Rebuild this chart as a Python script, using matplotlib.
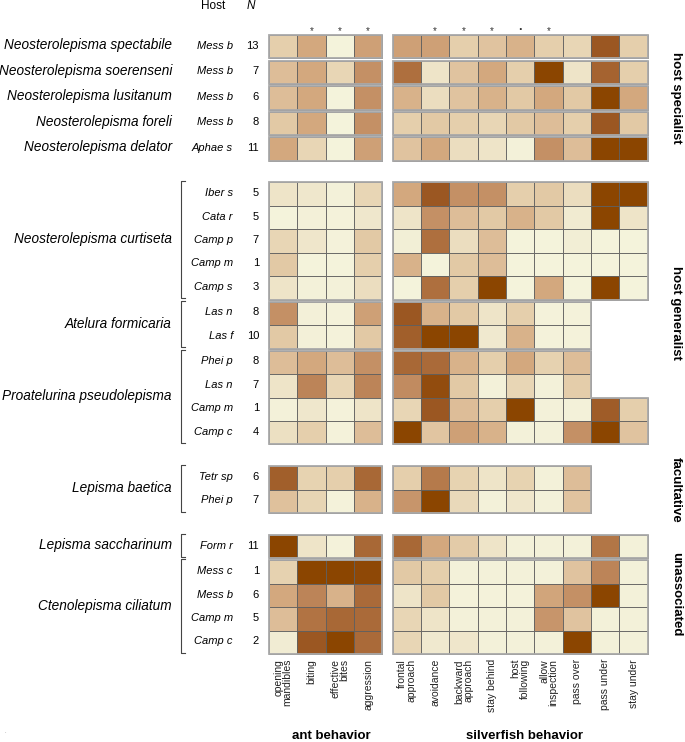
import numpy as np
import matplotlib.pyplot as plt
from matplotlib.colors import LinearSegmentedColormap, Normalize
from matplotlib.patches import Rectangle, Polygon

plt.rcParams['font.family'] = ['Liberation Sans', 'DejaVu Sans']

nan = np.nan

# columns
ant_cols = ['opening\nmandibles', 'biting', 'effective\nbites', 'aggression']
fish_cols = ['frontal\napproach', 'avoidance', 'backward\napproach', 'stay behind',
             'host\nfollowing', 'allow\ninspection', 'pass over', 'pass under', 'stay under']
ant_marks = ['', '*', '*', '*']
fish_marks = ['', '*', '*', '*', '.', '*', '', '', '']

# rows
groups = ['host specialist', 'host generalist', 'facultative', 'unassociated']
species = ['Neosterolepisma spectabile', 'Neosterolepisma soerenseni',
           'Neosterolepisma lusitanum', 'Neosterolepisma foreli',
           'Neosterolepisma delator', 'Neosterolepisma curtiseta',
           'Atelura formicaria', 'Proatelurina pseudolepisma',
           'Lepisma baetica', 'Lepisma saccharinum', 'Ctenolepisma ciliatum']
species_group = [0, 0, 0, 0, 0, 1, 1, 1, 2, 3, 3]
row_species = [0, 1, 2, 3, 4, 5, 5, 5, 5, 5, 6, 6, 7, 7, 7, 7, 8, 8, 9, 10, 10, 10, 10]
hosts = ['Mess b', 'Mess b', 'Mess b', 'Mess b', 'Aphae s',
         'Iber s', 'Cata r', 'Camp p', 'Camp m', 'Camp s',
         'Las n', 'Las f',
         'Phei p', 'Las n', 'Camp m', 'Camp c',
         'Tetr sp', 'Phei p',
         'Form r',
         'Mess c', 'Mess b', 'Camp m', 'Camp c']
n_obs = [13, 7, 6, 8, 11, 5, 5, 7, 1, 3, 8, 10, 8, 7, 1, 4, 6, 7, 11, 1, 6, 5, 2]

# scores (0 = never, 10 = most frequent)
ant_scores = [
    [3, 5.5, 0, 6],
    [4.5, 5.5, 2.5, 7],
    [4.5, 5.5, 0, 7],
    [3.5, 5.5, 0, 7],
    [5.5, 2.5, 0, 6],
    [1.5, 1.2, 0.2, 2.5],
    [0, 0.3, 0.1, 1.2],
    [2.5, 1.3, 0.1, 3.5],
    [3.5, 0, 0, 3],
    [1.5, 0.2, 0.2, 2],
    [7, 0.3, 0.1, 6],
    [3.5, 0.3, 0.1, 3.5],
    [4.5, 5.5, 4.5, 7],
    [1.5, 7.5, 2.5, 7.5],
    [0.2, 1.2, 0.1, 1.5],
    [1.8, 3, 0.1, 4.5],
    [9.2, 2.7, 3, 8.8],
    [4.2, 2.6, 0.1, 5],
    [10, 1.5, 0.1, 8.8],
    [2.8, 10, 10, 9.9],
    [5.5, 7.5, 5, 8.7],
    [4.5, 8.3, 8.8, 8.7],
    [0.7, 9.5, 10, 8.7],
]
fish_scores = [
    [6, 6, 3, 4, 5, 3, 2.5, 9.5, 3],
    [8.5, 1.5, 4, 5.5, 3, 10, 1.5, 9, 3],
    [5, 2, 4, 5, 3.5, 5.5, 3.5, 10, 5.5],
    [3, 3.5, 3, 2.5, 3.5, 4.5, 3, 9.5, 3.5],
    [4, 5.5, 2, 1.5, 0.2, 7, 4.5, 10, 10],
    [5.5, 9.5, 7, 7, 3, 3.5, 2, 10, 10],
    [1.5, 7, 4.5, 3.5, 5, 3.5, 0.8, 10, 1.5],
    [0.4, 8.5, 2, 4.5, 0, 0, 0.5, 0, 0],
    [5, 0, 3.5, 4.5, 0, 0, 0, 0, 0],
    [0, 8.5, 3, 10, 0, 5.5, 0, 10, 0],
    [9.5, 5, 3.5, 1.5, 3, 0.1, 0.1, nan, nan],
    [9.2, 10, 10, 1, 5, 0.1, 0.1, nan, nan],
    [8.8, 8.7, 5, 3, 5.5, 2.8, 4.5, nan, nan],
    [7.2, 9.8, 3.5, 0.2, 2.5, 0.2, 3.2, nan, nan],
    [2.5, 9.5, 4.5, 3, 10, 0.2, 0.2, 9.3, 3],
    [10, 3.8, 6, 5, 0.2, 0.2, 7, 10, 4],
    [3, 8, 2.7, 1.5, 2.7, 0.2, 4.5, nan, nan],
    [6.7, 10, 2.3, 0.2, 1.3, 0.2, 4, nan, nan],
    [8.8, 5.5, 3.3, 1.5, 0.2, 0.2, 0.2, 8.2, 0.2],
    [3.5, 3, 0.2, 0.2, 0.2, 0.2, 4, 7.5, 0.2],
    [1.5, 3.5, 0.1, 0.1, 0.1, 5.7, 7, 10, 0.2],
    [2.5, 1.5, 0.2, 0.2, 0.2, 6.7, 4, 0.2, 0.2],
    [2.5, 1, 1.3, 0.2, 0.2, 0.2, 10, 0.2, 0.2],
]

cmap = LinearSegmentedColormap.from_list('brown', [
    (0, '#F4F3DB'), (0.15, '#EEE4C8'), (0.3, '#E5CFAC'), (0.45, '#DDBD98'),
    (0.55, '#D3A87E'), (0.7, '#C49066'), (0.85, '#AE6F3E'), (0.95, '#9C5824'),
    (1, '#8B4500')])
norm = Normalize(0, 10)

# layout in pixels
X_ANT, X_FISH, CW = 269, 392.7, 28.35
Y0, RH, GAP_S, GAP_L = 35, 23.45, 2.1, 21.7

row_top = []
y = Y0
for s in range(len(species)):
    if s > 0:
        y += GAP_L if species_group[s] != species_group[s - 1] else GAP_S
    for r in range(len(row_species)):
        if row_species[r] == s:
            row_top.append(y)
            y += RH

fig = plt.figure(figsize=(6.85, 7.42), dpi=100)
ax = fig.add_axes([0, 0, 1, 1])
ax.set_xlim(0, 685)
ax.set_ylim(742, 0)
ax.axis('off')


def draw_block(rows, scores, x0):
    pts = [(x0, row_top[rows[0]])]
    for r in rows:
        vals = scores[r]
        n = 0
        for j, v in enumerate(vals):
            if np.isnan(v):
                continue
            n = j + 1
            ax.add_patch(Rectangle((x0 + j * CW, row_top[r]), CW, RH,
                                   facecolor=cmap(norm(v)), edgecolor='#5f5f5f', lw=0.6))
        pts.append((x0 + n * CW, row_top[r]))
        pts.append((x0 + n * CW, row_top[r] + RH))
    pts.append((x0, row_top[rows[-1]] + RH))
    ax.add_patch(Polygon(pts, closed=True, fill=False, edgecolor='#a9a9a9', lw=1.3))


for s, name in enumerate(species):
    rows = [r for r in range(len(row_species)) if row_species[r] == s]
    draw_block(rows, ant_scores, X_ANT)
    draw_block(rows, fish_scores, X_FISH)
    top, bot = row_top[rows[0]], row_top[rows[-1]] + RH
    ax.text(172, (top + bot) / 2 - 1.5, name, ha='right', va='center',
            fontsize=9.8, style='italic')
    if species_group[s] > 0:
        ax.plot([185, 181, 181, 185], [top - 1, top - 1, bot - 1.5, bot - 1.5],
                color='#444444', lw=0.8)

for r in range(len(row_species)):
    yc = row_top[r] + RH / 2
    ax.text(233, yc - 1, hosts[r], ha='right', va='center', fontsize=8, style='italic')
    ax.text(259, yc - 1, str(n_obs[r]), ha='right', va='center', fontsize=8)

ax.text(213, 6, 'Host', ha='center', va='center', fontsize=8.5)
ax.text(251, 6, 'N', ha='center', va='center', fontsize=8.5, style='italic')

for x0, cols, marks in [(X_ANT, ant_cols, ant_marks), (X_FISH, fish_cols, fish_marks)]:
    for j, lab in enumerate(cols):
        xc = x0 + (j + 0.5) * CW
        ax.text(xc, 659, lab, rotation=90, ha='center', va='top', fontsize=7.5,
                multialignment='right', linespacing=0.9, color='#222222')
        if marks[j] == '*':
            ax.text(xc, 31, '*', ha='center', va='center', fontsize=7, color='#333333')
        elif marks[j] == '.':
            ax.text(xc, 30, '.', ha='center', va='baseline', fontsize=9,
                    fontweight='bold', color='#333333')

ax.text(X_ANT + 2 * CW + 6, 736, 'ant behavior', ha='center', va='center',
        fontsize=9.5, fontweight='bold')
ax.text(X_FISH + 4.5 * CW + 4, 736, 'silverfish behavior', ha='center', va='center',
        fontsize=9.5, fontweight='bold')

for g, lab in enumerate(groups):
    rows = [r for r in range(len(row_species)) if species_group[row_species[r]] == g]
    yc = (row_top[rows[0]] + row_top[rows[-1]] + RH) / 2
    ax.text(676, yc, lab, rotation=-90, ha='center', va='center',
            fontsize=9.5, fontweight='bold')

ax.text(5, 733, '.', fontsize=4, color='#777777')

fig.savefig('out.png', dpi=100)
